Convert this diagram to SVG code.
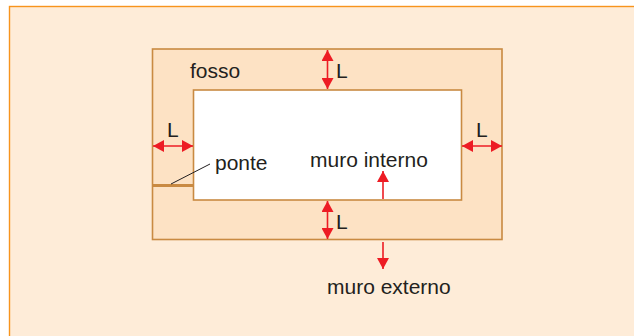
<svg xmlns="http://www.w3.org/2000/svg" width="634" height="336" viewBox="0 0 634 336">
  <style>
    .panel { fill: #FEECD8; stroke: #F7941D; stroke-width: 1.4; }
    .wall { stroke: #C98A42; stroke-width: 1.6; }
    .moat { fill: #FDE2C4; }
    .keep { fill: #FFFFFF; }
    .dim { stroke: #ED1C24; stroke-width: 1.6; fill: none; }
    .lbl { font-family: "Liberation Sans", Arial, sans-serif; font-size: 21px; fill: #231F20; }
    .leader { stroke: #231F20; stroke-width: 1; }
    .bridge { stroke: #C98A42; stroke-width: 3.2; }
  </style>
  <defs>
    <marker id="head" viewBox="0 0 11 12" refX="11" refY="6" markerWidth="11" markerHeight="12" markerUnits="userSpaceOnUse" orient="auto-start-reverse">
      <path d="M0,0 L11,6 L0,12 Z" fill="#ED1C24"/>
    </marker>
  </defs>

  <rect class="panel" x="9.5" y="6.5" width="640" height="340"/>

  <g id="muro-esterno">
    <rect class="moat wall" x="152.5" y="49" width="349.5" height="190.5"/>
  </g>
  <g id="muro-interno">
    <rect class="keep wall" x="193.5" y="90" width="268" height="110"/>
  </g>
  <g id="ponte">
    <line class="bridge" x1="152" y1="185.5" x2="194" y2="185.5"/>
  </g>

  <g id="connectors">
    <line class="dim" x1="327.5" y1="50" x2="327.5" y2="89" marker-start="url(#head)" marker-end="url(#head)"/>
    <line class="dim" x1="327.5" y1="201" x2="327.5" y2="239" marker-start="url(#head)" marker-end="url(#head)"/>
    <line class="dim" x1="153" y1="146" x2="193" y2="146" marker-start="url(#head)" marker-end="url(#head)"/>
    <line class="dim" x1="462" y1="146" x2="502" y2="146" marker-start="url(#head)" marker-end="url(#head)"/>
    <line class="dim" x1="383" y1="199" x2="383" y2="171" marker-end="url(#head)"/>
    <line class="dim" x1="383" y1="242" x2="383" y2="269" marker-end="url(#head)"/>
    <line class="leader" x1="171" y1="184" x2="210" y2="164"/>
  </g>

  <g id="labels">
    <text class="lbl" x="190" y="78">fosso</text>
    <text class="lbl" x="336" y="78">L</text>
    <text class="lbl" x="167" y="137">L</text>
    <text class="lbl" x="476" y="137">L</text>
    <text class="lbl" x="336" y="229">L</text>
    <text class="lbl" x="215" y="170">ponte</text>
    <text class="lbl" x="310" y="167">muro interno</text>
    <text class="lbl" x="327" y="294">muro externo</text>
  </g>
</svg>
